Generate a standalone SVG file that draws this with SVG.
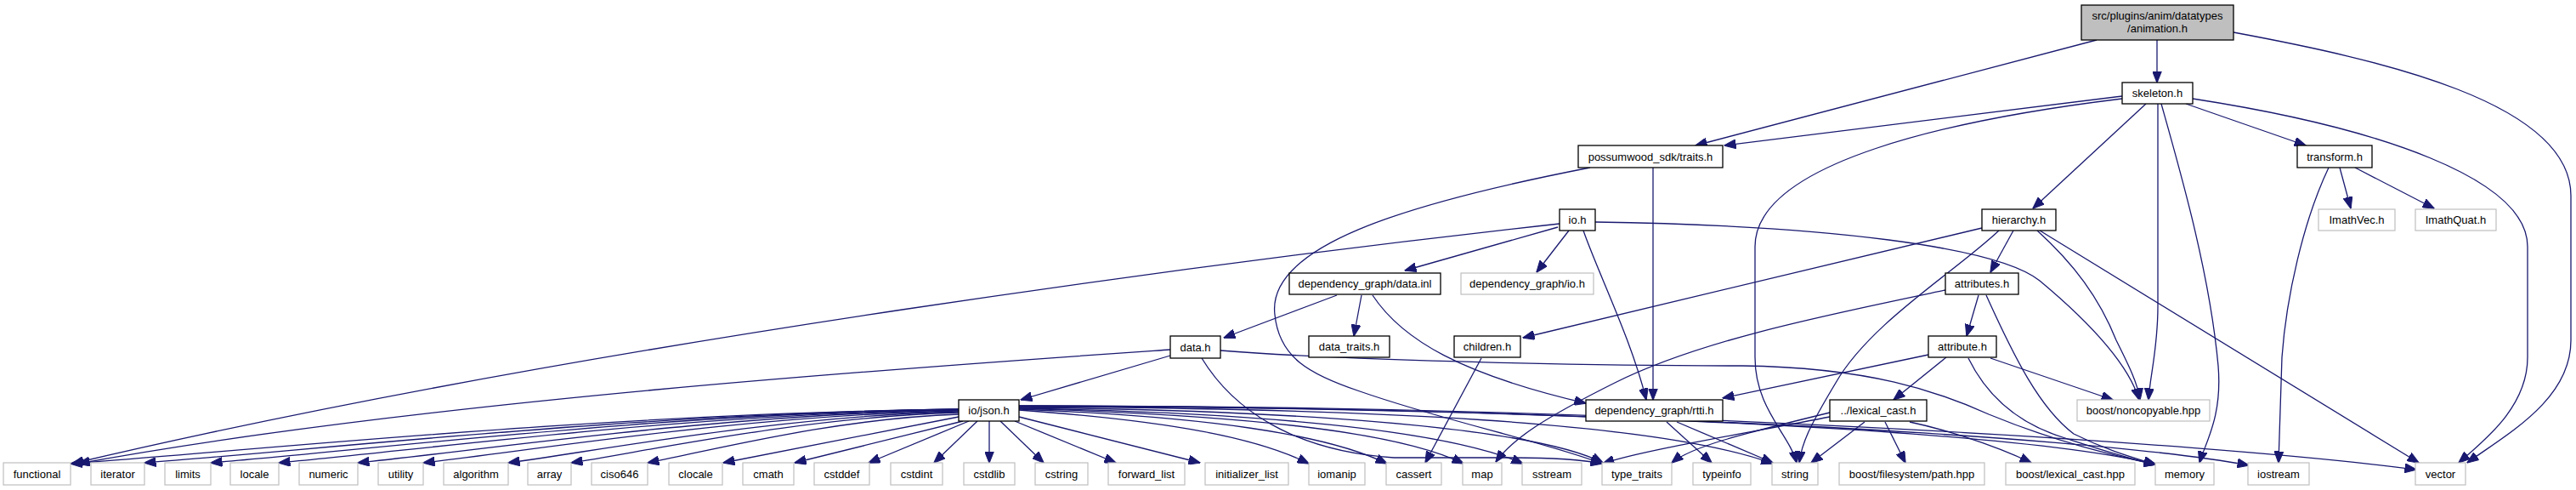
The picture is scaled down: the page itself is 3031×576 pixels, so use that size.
<svg xmlns="http://www.w3.org/2000/svg" width="3031" height="576" viewBox="0 0 3031 576">
<style>
text{font-family:"Liberation Sans",Arial,sans-serif;font-size:13px;text-anchor:middle;fill:#000}
.n rect{fill:#fff;stroke:#000;stroke-width:1.3}
.g rect{fill:#fff;stroke:#bfbfbf;stroke-width:1.2}
.r rect{fill:#bfbfbf;stroke:#000;stroke-width:1.3}
#edges path{fill:none;stroke:#191970;stroke-width:1.3;marker-end:url(#a)}
</style>
<defs>
<marker id="a" markerUnits="userSpaceOnUse" markerWidth="14" markerHeight="11" refX="13.5" refY="5.5" orient="auto"><path d="M0,0 L14,5.5 L0,11 z" fill="#191970" stroke="#191970" stroke-width="1"/></marker>
</defs>
<rect width="3031" height="576" fill="#fff"/>
<g id="edges">
<path d="M2538,47 L2538,97"/>
<path d="M2467,47 L1995,171"/>
<path d="M2628,38 C2800,70 3025,120 3025,230 L3025,400 C3025,470 2950,510 2903,544"/>
<path d="M2497,113 L2029,171"/>
<path d="M2497,116 C2300,140 2065,190 2065,290 L2065,420 C2065,480 2105,510 2114,544"/>
<path d="M2525,122 L2392,245"/>
<path d="M2572,122 L2713,171"/>
<path d="M2539,122 L2539,360 C2539,410 2530,440 2528,470"/>
<path d="M2543,122 C2565,200 2600,320 2610,430 C2615,490 2595,520 2588,544"/>
<path d="M2580,116 C2800,150 2974,210 2974,290 L2974,420 C2974,480 2920,520 2893,544"/>
<path d="M2753,197 L2766,245"/>
<path d="M2771,197 L2864,245"/>
<path d="M2740,197 C2710,260 2690,350 2685,420 L2681,544"/>
<path d="M2369,271 L2342,320"/>
<path d="M2332,268 L1792,397"/>
<path d="M2352,271 C2300,320 2200,380 2160,450 C2130,500 2120,520 2117,544"/>
<path d="M2397,271 C2440,310 2470,350 2490,400 C2505,430 2515,450 2518,470"/>
<path d="M2400,271 L2846,544"/>
<path d="M2328,347 L2314,395"/>
<path d="M2337,347 C2370,420 2400,480 2440,510 C2480,530 2510,538 2536,546"/>
<path d="M2289,341 C2150,370 2000,400 1900,450 C1820,490 1780,515 1760,543"/>
<path d="M2269,417 L2027,468"/>
<path d="M2290,420 L2228,470"/>
<path d="M2342,421 L2486,470"/>
<path d="M2316,421 C2340,470 2380,500 2430,515 C2470,528 2500,538 2536,546"/>
<path d="M2153,485 C2050,510 1990,525 1967,544"/>
<path d="M2153,490 C2050,510 1930,530 1886,545"/>
<path d="M2194,496 L2131,544"/>
<path d="M2218,496 L2242,544"/>
<path d="M2247,496 C2280,503 2340,520 2390,544"/>
<path d="M1961,496 L2014,544"/>
<path d="M1973,496 L2086,544"/>
<path d="M1743,421 L1677,544"/>
<path d="M1602,347 L1593,395"/>
<path d="M1573,347 L1440,397"/>
<path d="M1615,347 C1650,400 1720,440 1866,474"/>
<path d="M1833,267 L1653,318"/>
<path d="M1846,271 L1808,320"/>
<path d="M1863,271 C1880,320 1920,400 1937,470"/>
<path d="M1945,197 L1945,470"/>
<path d="M1877,261 C2150,265 2350,290 2400,330 C2460,380 2505,430 2517,470"/>
<path d="M1835,263 C1500,300 700,400 85,545"/>
<path d="M1871,197 C1650,240 1490,290 1500,370 C1505,420 1540,440 1600,460 C1700,495 1820,520 1885,545"/>
<path d="M1377,411 C1100,430 500,470 92,545"/>
<path d="M1377,418 L1201,470"/>
<path d="M1436,412 C1600,425 1900,430 2050,430 C2200,432 2280,460 2340,487 C2420,520 2490,536 2536,546"/>
<path d="M1414,421 C1450,480 1520,530 1640,538 L1780,538 C1830,538 1860,540 1885,545"/>
<path d="M1128,481 C710,486 292,530 83,545"/>
<path d="M1128,481 C745,486 362,530 170,544"/>
<path d="M1128,481 C776,486 424,530 248,544"/>
<path d="M1128,482 C808,486 488,530 328,544"/>
<path d="M1128,482 C845,487 562,530 421,544"/>
<path d="M1128,483 C876,488 624,530 498,544"/>
<path d="M1128,484 C916,489 704,530 598,544"/>
<path d="M1128,485 C946,490 763,530 672,544"/>
<path d="M1128,487 C982,492 835,530 762,544"/>
<path d="M1128,490 L851,544"/>
<path d="M1133,495 L935,544"/>
<path d="M1140,495 L1022,544"/>
<path d="M1150,495 L1099,544"/>
<path d="M1164,495 L1164,544"/>
<path d="M1177,495 L1228,544"/>
<path d="M1194,495 L1313,544"/>
<path d="M1199,490 L1412,544"/>
<path d="M1199,482 C1380,495 1480,515 1540,545"/>
<path d="M1199,481 C1420,490 1560,510 1632,545"/>
<path d="M1199,480 C1450,488 1640,505 1722,545"/>
<path d="M1199,480 C1480,485 1700,505 1792,545"/>
<path d="M1199,479 C1500,482 1800,500 1886,544"/>
<path d="M1199,478 C1600,480 1950,495 2086,545"/>
<path d="M1199,478 C1700,478 2350,500 2537,546"/>
<path d="M1199,477 C1800,478 2450,510 2646,547"/>
<path d="M1199,477 C1900,476 2600,520 2843,552"/>
</g>
<g id="n_animation" class="r"><rect x="2449" y="6" width="179" height="41"/><text x="2538.5" y="23">src/plugins/anim/datatypes</text><text x="2538.5" y="38">/animation.h</text></g>
<g id="n_skeleton" class="n"><rect x="2497" y="97" width="83" height="25"/><text x="2538.5" y="114">skeleton.h</text></g>
<g id="n_traits" class="n"><rect x="1857" y="171" width="170" height="26"/><text x="1942" y="188.5">possumwood_sdk/traits.h</text></g>
<g id="n_transform" class="n"><rect x="2703" y="171" width="88" height="26"/><text x="2747" y="188.5">transform.h</text></g>
<g id="n_io" class="n"><rect x="1835" y="246" width="42" height="25"/><text x="1856" y="263">io.h</text></g>
<g id="n_hierarchy" class="n"><rect x="2332" y="246" width="87" height="25"/><text x="2375.5" y="263">hierarchy.h</text></g>
<g id="n_imathvec" class="g"><rect x="2728" y="246" width="90" height="25"/><text x="2773" y="263">ImathVec.h</text></g>
<g id="n_imathquat" class="g"><rect x="2842" y="246" width="95" height="25"/><text x="2889.5" y="263">ImathQuat.h</text></g>
<g id="n_datainl" class="n"><rect x="1517" y="321" width="178" height="25"/><text x="1606" y="338">dependency_graph/data.inl</text></g>
<g id="n_dgio" class="g"><rect x="1719" y="321" width="156" height="25"/><text x="1797" y="338">dependency_graph/io.h</text></g>
<g id="n_attributes" class="n"><rect x="2289" y="321" width="86" height="25"/><text x="2332" y="338">attributes.h</text></g>
<g id="n_datah" class="n"><rect x="1377" y="395" width="59" height="26"/><text x="1406.5" y="412.5">data.h</text></g>
<g id="n_datatraits" class="n"><rect x="1540" y="395" width="95" height="25"/><text x="1587.5" y="412">data_traits.h</text></g>
<g id="n_children" class="n"><rect x="1711" y="395" width="78" height="25"/><text x="1750" y="412">children.h</text></g>
<g id="n_attribute" class="n"><rect x="2269" y="395" width="80" height="25"/><text x="2309" y="412">attribute.h</text></g>
<g id="n_json" class="n"><rect x="1128" y="470" width="71" height="25"/><text x="1163.5" y="487">io/json.h</text></g>
<g id="n_rtti" class="n"><rect x="1866" y="470" width="161" height="25"/><text x="1946.5" y="487">dependency_graph/rtti.h</text></g>
<g id="n_lexcast" class="n"><rect x="2153" y="470" width="114" height="25"/><text x="2210" y="487">../lexical_cast.h</text></g>
<g id="n_noncopyable" class="g"><rect x="2444" y="470" width="156" height="25"/><text x="2522" y="487">boost/noncopyable.hpp</text></g>
<g id="n_functional" class="g"><rect x="4" y="544" width="79" height="26"/><text x="43.5" y="561.5">functional</text></g>
<g id="n_iterator" class="g"><rect x="107" y="544" width="63" height="26"/><text x="138.5" y="561.5">iterator</text></g>
<g id="n_limits" class="g"><rect x="194" y="544" width="54" height="26"/><text x="221" y="561.5">limits</text></g>
<g id="n_locale" class="g"><rect x="271" y="544" width="57" height="26"/><text x="299.5" y="561.5">locale</text></g>
<g id="n_numeric" class="g"><rect x="352" y="544" width="69" height="26"/><text x="386.5" y="561.5">numeric</text></g>
<g id="n_utility" class="g"><rect x="445" y="544" width="53" height="26"/><text x="471.5" y="561.5">utility</text></g>
<g id="n_algorithm" class="g"><rect x="522" y="544" width="76" height="26"/><text x="560" y="561.5">algorithm</text></g>
<g id="n_array" class="g"><rect x="621" y="544" width="51" height="26"/><text x="646.5" y="561.5">array</text></g>
<g id="n_ciso646" class="g"><rect x="696" y="544" width="66" height="26"/><text x="729" y="561.5">ciso646</text></g>
<g id="n_clocale" class="g"><rect x="787" y="544" width="63" height="26"/><text x="818.5" y="561.5">clocale</text></g>
<g id="n_cmath" class="g"><rect x="874" y="544" width="60" height="26"/><text x="904" y="561.5">cmath</text></g>
<g id="n_cstddef" class="g"><rect x="958" y="544" width="65" height="26"/><text x="990.5" y="561.5">cstddef</text></g>
<g id="n_cstdint" class="g"><rect x="1048" y="544" width="61" height="26"/><text x="1078.5" y="561.5">cstdint</text></g>
<g id="n_cstdlib" class="g"><rect x="1134" y="544" width="60" height="26"/><text x="1164" y="561.5">cstdlib</text></g>
<g id="n_cstring" class="g"><rect x="1218" y="544" width="62" height="26"/><text x="1249" y="561.5">cstring</text></g>
<g id="n_forward_list" class="g"><rect x="1304" y="544" width="90" height="26"/><text x="1349" y="561.5">forward_list</text></g>
<g id="n_initializer_list" class="g"><rect x="1418" y="544" width="98" height="26"/><text x="1467" y="561.5">initializer_list</text></g>
<g id="n_iomanip" class="g"><rect x="1540" y="544" width="66" height="26"/><text x="1573" y="561.5">iomanip</text></g>
<g id="n_cassert" class="g"><rect x="1631" y="544" width="65" height="26"/><text x="1663.5" y="561.5">cassert</text></g>
<g id="n_map" class="g"><rect x="1721" y="544" width="46" height="26"/><text x="1744" y="561.5">map</text></g>
<g id="n_sstream" class="g"><rect x="1791" y="544" width="70" height="26"/><text x="1826" y="561.5">sstream</text></g>
<g id="n_type_traits" class="g"><rect x="1885" y="544" width="82" height="26"/><text x="1926" y="561.5">type_traits</text></g>
<g id="n_typeinfo" class="g"><rect x="1992" y="544" width="68" height="26"/><text x="2026" y="561.5">typeinfo</text></g>
<g id="n_string" class="g"><rect x="2085" y="544" width="54" height="26"/><text x="2112" y="561.5">string</text></g>
<g id="n_fspath" class="g"><rect x="2164" y="544" width="171" height="26"/><text x="2249.5" y="561.5">boost/filesystem/path.hpp</text></g>
<g id="n_blexcast" class="g"><rect x="2360" y="544" width="152" height="26"/><text x="2436" y="561.5">boost/lexical_cast.hpp</text></g>
<g id="n_memory" class="g"><rect x="2536" y="544" width="69" height="26"/><text x="2570.5" y="561.5">memory</text></g>
<g id="n_iostream" class="g"><rect x="2645" y="544" width="72" height="26"/><text x="2681" y="561.5">iostream</text></g>
<g id="n_vector" class="g"><rect x="2842" y="544" width="59" height="26"/><text x="2871.5" y="561.5">vector</text></g>
</svg>
